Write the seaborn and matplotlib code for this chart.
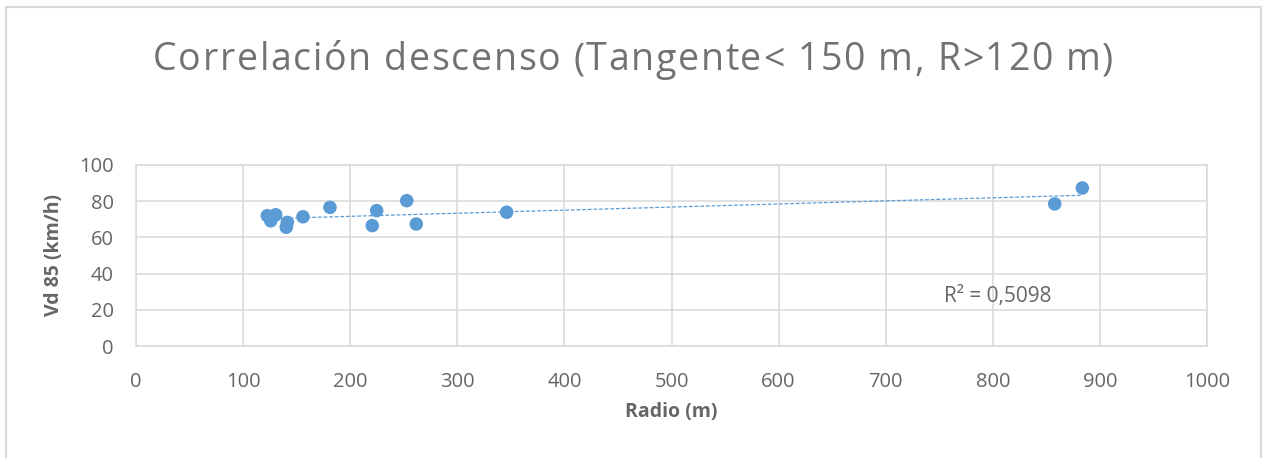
import numpy as np
import pandas as pd
import matplotlib
matplotlib.use("Agg")
import matplotlib.pyplot as plt
import seaborn as sns
from matplotlib.patches import Rectangle

# Curve radius (m) and 85th percentile speed (km/h), downhill sections
radio = [122.6, 130.4, 125.8, 141.3, 140.3, 155.9, 181.1, 224.7, 220.6,
         252.8, 261.7, 346.1, 857.8, 883.6]
vd85 = [72.0, 72.5, 69.2, 68.3, 65.6, 71.4, 76.6, 74.8, 66.5,
        80.3, 67.4, 73.9, 78.5, 87.3]

x_ticks = [0, 100, 200, 300, 400, 500, 600, 700, 800, 900, 1000]
y_ticks = [0, 20, 40, 60, 80, 100]

title = "Correlación descenso (Tangente< 150 m, R>120 m)"
x_label = "Radio (m)"
y_label = "Vd 85 (km/h)"
r2_label = "R² = 0,5098"

blue = "#5B9BD5"
grid_gray = "#D9D9D9"
text_gray = "#666666"
title_gray = "#727272"

sns.set_theme(style="white")
plt.rcParams["font.family"] = ["Open Sans", "DejaVu Sans"]

df = pd.DataFrame({"Radio": radio, "Vd85": vd85})

W, H = 1270, 458
fig = plt.figure(figsize=(W / 100, H / 100), dpi=100)
ax = fig.add_axes([136 / W, 112 / H, 1071 / W, 181 / H])

ax.set_xlim(0, 1000)
ax.set_ylim(0, 100)
ax.set_xticks(x_ticks)
ax.set_yticks(y_ticks)
ax.grid(True, color=grid_gray, linewidth=1.1)
ax.set_axisbelow(True)
for s in ax.spines.values():
    s.set_color(grid_gray)
    s.set_linewidth(1.1)
ax.tick_params(axis="both", length=0, labelsize=14.5, labelcolor=text_gray)
ax.tick_params(axis="x", pad=19)
ax.tick_params(axis="y", pad=16)

# Linear trend line over the data range
coef = np.polyfit(df["Radio"], df["Vd85"], 1)
xs = np.array([df["Radio"].min(), df["Radio"].max()])
ax.plot(xs, np.polyval(coef, xs), linestyle=(0, (3, 1.5)), color=blue,
        linewidth=0.9, zorder=2)

sns.scatterplot(data=df, x="Radio", y="Vd85", ax=ax, color=blue, s=95,
                edgecolor="none", zorder=3)

ax.set_xlabel(x_label, fontsize=14, fontweight="bold", color=text_gray)
ax.set_ylabel(y_label, fontsize=14, fontweight="bold", color=text_gray)
ax.xaxis.set_label_coords(0.5, -0.31)
ax.yaxis.set_label_coords(-0.067, 0.5)

ax.text(805, 27.5, r2_label, ha="center", va="center", fontsize=15, color=text_gray)

# Letter-spaced chart title
renderer = fig.canvas.get_renderer()
title_size = 27
left_px, right_px, mid_y = 153, 1113, H - 56


def text_width(s):
    t = fig.text(0, 0, s, fontsize=title_size)
    w = t.get_window_extent(renderer).width
    t.remove()
    return w


ref_w = text_width("l")
full_w = text_width(title)
extra = (right_px - left_px - full_w) / (len(title) - 1)
for i, ch in enumerate(title):
    x0 = (text_width(title[:i] + "l") - ref_w) if i else 0.0
    fig.text((left_px + x0 + i * extra) / W, mid_y / H, ch, ha="left",
             va="center_baseline", fontsize=title_size, color=title_gray)

# Chart area frame
fig.patches.append(Rectangle((6 / W, -0.05), 1255 / W, 1 - 7 / H + 0.05,
                             transform=fig.transFigure, fill=False,
                             edgecolor=grid_gray, linewidth=1.5))

fig.savefig("out.png", dpi=100)
